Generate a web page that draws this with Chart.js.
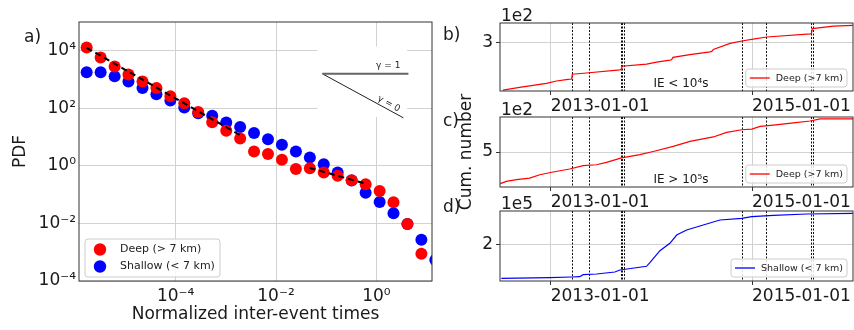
<!DOCTYPE html>
<html>
<head>
<meta charset="utf-8">
<script src="https://cdn.jsdelivr.net/npm/chart.js@4.4.1/dist/chart.umd.min.js"></script>
<style>
  body { margin: 0; background: #fff; }
  #wrap { position: relative; width: 854px; height: 330px; overflow: hidden; }
  canvas { position: absolute; top: 0; }
</style>
</head>
<body>
<div id="wrap">
  <canvas id="pdf" width="440" height="330" style="left:0"></canvas>
  <canvas id="deepShort" width="414" height="330" style="left:440px"></canvas>
  <canvas id="deepLong" width="414" height="330" style="left:440px"></canvas>
  <canvas id="shallow" width="414" height="330" style="left:440px"></canvas>
</div>
<script>
// ---- panel a: PDF of normalized inter-event times ----
const ieTimes = [1.69e-6, 3.21e-6, 6.10e-6, 1.15e-5, 2.19e-5, 4.15e-5, 7.87e-5, 1.49e-4, 2.82e-4, 5.36e-4,
  1.02e-3, 1.93e-3, 3.65e-3, 6.92e-3, 1.31e-2, 2.49e-2, 4.72e-2, 8.93e-2, 0.169, 0.321, 0.610, 1.16, 2.19, 4.15, 7.87, 14.9];
const pdfDeep = [12900, 5890, 2820, 1510, 851, 513, 263, 151, 74, 33, 16.6, 8.9, 3.16, 2.57, 1.62, 0.78,
  0.83, 0.59, 0.45, 0.32, 0.23, 0.135, 0.055, 0.0095, 0.00089, null];
const pdfShallow = [1780, 1780, 1290, 851, 513, 309, 186, 107, 68, 55, 32, 22.4, 13.8, 8.5, 5.4, 3.16,
  1.95, 1.15, 0.59, 0.31, 0.117, 0.056, 0.0224, 0.0095, 0.0027, 0.00054];
const fitShortX = [1.69e-6, 1.88e-3];
const fitShortY = [12700, 12.0];
const fitLongX = [0.0465, 0.632];
const fitLongY = [0.851, 0.237];
const gammaOneX = [0.084, 4.34];
const gammaOneY = [1585, 1585];
const gammaZeroX = [0.084, 3.44];
const gammaZeroY = [1585, 46.8];
const pdfXTicks = [1e-4, 1e-2, 1];
const pdfYTicks = [1e-4, 1e-2, 1, 1e2, 1e4];

// ---- panels b-d: cumulative numbers ----
const dateTicks = [2013, 2015];
const dateTickLabels = ['2013-01-01', '2015-01-01'];
const eventYears = [2013.212, 2013.381, 2013.701, 2013.711, 2013.728, 2014.898, 2015.139, 2015.586, 2015.606];

const deepShortYears = [2012.525, 2012.69, 2012.957, 2013.057, 2013.172, 2013.208, 2013.214, 2013.355, 2013.687,
  2013.700, 2013.706, 2013.952, 2014.052, 2014.184, 2014.200, 2014.214, 2014.383, 2014.582, 2014.600, 2014.615,
  2014.781, 2014.898, 2014.997, 2015.146, 2015.580, 2015.590, 2015.600, 2015.809, 2016.002];
const deepShortCount = [180, 187, 197, 203, 207, 208, 220, 223, 231, 232, 240, 245, 250, 255, 256, 262, 269, 276,
  277, 282, 297, 303, 307, 313, 321, 322, 334, 340, 342];

const deepLongYears = [2012.499, 2012.559, 2012.659, 2012.791, 2012.891, 2012.997, 2013.189, 2013.321, 2013.455,
  2013.554, 2013.703, 2013.886, 2014.018, 2014.217, 2014.383, 2014.615, 2014.748, 2014.898, 2014.997, 2015.080,
  2015.212, 2015.411, 2015.577, 2015.677, 2016.002];
const deepLongCount = [319, 332, 342, 351, 370, 383, 403, 422, 427, 441, 466, 485, 503, 532, 561, 586, 612, 627,
  631, 646, 654, 666, 677, 689, 689];

const shallowYears = [2012.509, 2012.99, 2013.206, 2013.289, 2013.321, 2013.455, 2013.637, 2013.687, 2013.952,
  2013.985, 2014.085, 2014.184, 2014.251, 2014.350, 2014.515, 2014.681, 2014.898, 2014.997, 2015.212, 2015.544, 2016.002];
const shallowCount = [137000, 138100, 139400, 140000, 143700, 145000, 148700, 152400, 159300, 166000, 188300,
  202000, 217400, 226700, 236000, 245300, 248400, 251400, 254000, 256400, 257700];

Chart.defaults.font.family = "'DejaVu Sans', sans-serif";
Chart.defaults.font.size = 17;
Chart.defaults.color = '#1a1a1a';

const gridColor = '#d2d2d2';
const sup = { '-': '\u207B', '0': '\u2070', '1': '\u00B9', '2': '\u00B2', '3': '\u00B3', '4': '\u2074', '5': '\u2075' };
const powLabel = v => '10' + String(Math.round(Math.log10(v))).split('').map(c => sup[c]).join('');
const pairs = (xs, ys) => xs.map((x, i) => ({ x, y: ys[i] })).filter(p => p.y !== null);

const framePlugin = {
  id: 'frame',
  afterDatasetsDraw(chart) {
    const { ctx, chartArea: a } = chart;
    ctx.save();
    ctx.strokeStyle = '#333';
    ctx.lineWidth = 1;
    ctx.strokeRect(a.left, a.top, a.right - a.left, a.bottom - a.top);
    ctx.restore();
  }
};

function roundBox(ctx, x, y, w, h, r) {
  ctx.beginPath();
  ctx.moveTo(x + r, y);
  ctx.arcTo(x + w, y, x + w, y + h, r);
  ctx.arcTo(x + w, y + h, x, y + h, r);
  ctx.arcTo(x, y + h, x, y, r);
  ctx.arcTo(x, y, x + w, y, r);
  ctx.closePath();
  ctx.fillStyle = 'rgba(255,255,255,0.85)';
  ctx.fill();
  ctx.strokeStyle = '#cccccc';
  ctx.lineWidth = 1;
  ctx.stroke();
}

// white patch behind the slope inset, and the gamma labels
const insetPlugin = {
  id: 'inset',
  beforeDatasetsDraw(chart, args, opts) {
    const { ctx, scales: { x, y } } = chart;
    const x0 = x.getPixelForValue(opts.x[0]), x1 = x.getPixelForValue(opts.x[1]);
    const y0 = y.getPixelForValue(opts.y[1]), y1 = y.getPixelForValue(opts.y[0]);
    ctx.save();
    ctx.fillStyle = '#fff';
    ctx.fillRect(x0, y0, x1 - x0, y1 - y0);
    ctx.restore();
  },
  afterDatasetsDraw(chart) {
    const { ctx, scales: { x, y } } = chart;
    ctx.save();
    ctx.fillStyle = '#222';
    ctx.font = "9px 'DejaVu Sans'";
    ctx.textAlign = 'right';
    ctx.textBaseline = 'alphabetic';
    ctx.fillText('\u03B3 = 1', x.getPixelForValue(gammaOneX[1]) - 8, y.getPixelForValue(gammaOneY[1]) - 6);
    const px0 = x.getPixelForValue(gammaZeroX[0]), py0 = y.getPixelForValue(gammaZeroY[0]);
    const px1 = x.getPixelForValue(gammaZeroX[1]), py1 = y.getPixelForValue(gammaZeroY[1]);
    const ang = Math.atan2(py1 - py0, px1 - px0);
    ctx.translate(px0 + (px1 - px0) * 0.92, py0 + (py1 - py0) * 0.92);
    ctx.rotate(ang);
    ctx.fillText('\u03B3 = 0', 0, -3);
    ctx.restore();
  }
};

const pdfLegend = {
  id: 'pdfLegend',
  afterDraw(chart) {
    const { ctx, chartArea: a } = chart;
    const items = chart.data.datasets.filter(d => d.inLegend);
    const h = 38, w = 135, x0 = a.left + 6, y0 = a.bottom - 4 - h;
    ctx.save();
    roundBox(ctx, x0, y0, w, h, 3);
    ctx.font = "11px 'DejaVu Sans'";
    ctx.textBaseline = 'middle';
    items.forEach((d, i) => {
      const cy = y0 + 10.5 + 17 * i;
      ctx.beginPath();
      ctx.arc(x0 + 15, cy, 6.2, 0, Math.PI * 2);
      ctx.fillStyle = d.backgroundColor;
      ctx.fill();
      ctx.fillStyle = '#222';
      ctx.fillText(d.label, x0 + 35, cy);
    });
    ctx.fillStyle = '#1a1a1a';
    ctx.font = "17px 'DejaVu Sans'";
    ctx.textBaseline = 'middle';
    ctx.fillText('a)', 24, 38);
    ctx.restore();
  }
};

new Chart(document.getElementById('pdf'), {
  type: 'scatter',
  data: {
    datasets: [
      { label: 'fit short', data: pairs(fitShortX, fitShortY), showLine: true, borderColor: '#000', borderWidth: 2,
        borderDash: [6, 4], pointRadius: 0, order: 0, clip: 0 },
      { label: 'fit long', data: pairs(fitLongX, fitLongY), showLine: true, borderColor: '#000', borderWidth: 2,
        borderDash: [6, 4], pointRadius: 0, order: 0, clip: 0 },
      { label: 'gamma 1', data: pairs(gammaOneX, gammaOneY), showLine: true, borderColor: '#666', borderWidth: 2,
        pointRadius: 0, order: 0, clip: 0 },
      { label: 'gamma 0', data: pairs(gammaZeroX, gammaZeroY), showLine: true, borderColor: '#222', borderWidth: 1,
        pointRadius: 0, order: 0, clip: 0 },
      { label: 'Deep (> 7 km)', data: pairs(ieTimes, pdfDeep), backgroundColor: '#ff0000', pointRadius: 6,
        pointBorderWidth: 0, order: 1, clip: 0, inLegend: true },
      { label: 'Shallow (< 7 km)', data: pairs(ieTimes, pdfShallow), backgroundColor: '#0000ff', pointRadius: 6,
        pointBorderWidth: 0, order: 2, clip: 0, inLegend: true }
    ]
  },
  options: {
    responsive: false,
    animation: false,
    events: [],
    layout: { padding: { left: 10, right: 8, top: 22, bottom: 5 } },
    plugins: {
      legend: { display: false },
      tooltip: { enabled: false },
      inset: { x: [0.067, 4.1], y: [50, 14000] }
    },
    scales: {
      x: {
        type: 'logarithmic', min: 1.19e-6, max: 12.8,
        afterBuildTicks: s => { s.ticks = pdfXTicks.map(v => ({ value: v })); },
        afterFit: s => { s.height = 44; },
        ticks: { callback: v => powLabel(v), autoSkip: false, maxRotation: 0, padding: 5 },
        grid: { color: gridColor, drawTicks: false },
        border: { display: false },
        title: { display: true, text: 'Normalized inter-event times', padding: { top: 0, bottom: 0 } }
      },
      y: {
        type: 'logarithmic', min: 1e-4, max: 1e5,
        afterBuildTicks: s => { s.ticks = pdfYTicks.map(v => ({ value: v })); },
        afterFit: s => { s.width = 69; },
        ticks: { callback: v => powLabel(v), autoSkip: false, padding: 3 },
        grid: { color: gridColor, drawTicks: false },
        border: { display: false },
        title: { display: true, text: 'PDF', padding: { top: 0, bottom: 0 } }
      }
    }
  },
  plugins: [insetPlugin, framePlugin, pdfLegend]
});

// dotted vertical lines at the marked dates
const eventLines = {
  id: 'eventLines',
  beforeDatasetsDraw(chart) {
    const { ctx, chartArea: a, scales: { x } } = chart;
    ctx.save();
    ctx.strokeStyle = '#111';
    ctx.lineWidth = 1;
    ctx.setLineDash([2, 1.5]);
    eventYears.forEach(yr => {
      const px = Math.round(x.getPixelForValue(yr)) + 0.5;
      ctx.beginPath();
      ctx.moveTo(px, a.top);
      ctx.lineTo(px, a.bottom);
      ctx.stroke();
    });
    ctx.restore();
  }
};

const panelText = {
  id: 'panelText',
  afterDraw(chart, args, o) {
    const { ctx, chartArea: a } = chart;
    const d = chart.data.datasets[0];
    ctx.save();
    // legend
    ctx.font = "9.5px 'DejaVu Sans'";
    const tw = ctx.measureText(d.label).width;
    const w = tw + 34, h = 18, x0 = a.right - 6 - w, y0 = a.bottom - 4 - h;
    roundBox(ctx, x0, y0, w, h, 3);
    ctx.strokeStyle = d.borderColor;
    ctx.lineWidth = 1.3;
    ctx.beginPath();
    ctx.moveTo(x0 + 4, y0 + h / 2);
    ctx.lineTo(x0 + 24, y0 + h / 2);
    ctx.stroke();
    ctx.fillStyle = '#222';
    ctx.textBaseline = 'middle';
    ctx.fillText(d.label, x0 + 30, y0 + h / 2 + 0.5);
    // offset text, panel tag, note
    ctx.fillStyle = '#1a1a1a';
    ctx.font = "17px 'DejaVu Sans'";
    ctx.textBaseline = 'alphabetic';
    ctx.fillText(o.offset, a.left + 1, a.top - 2);
    ctx.textBaseline = 'middle';
    ctx.fillText(o.tag, 3, o.tagY);
    if (o.note) {
      ctx.font = "12px 'DejaVu Sans'";
      ctx.textAlign = 'center';
      ctx.textBaseline = 'alphabetic';
      ctx.fillText(o.note, a.left + 181, a.bottom - 4);
    }
    ctx.restore();
  }
};

function timePanel(id, o) {
  return new Chart(document.getElementById(id), {
    type: 'line',
    data: {
      datasets: [{
        label: o.label,
        data: pairs(o.years, o.counts),
        borderColor: o.color,
        borderWidth: 1.2,
        pointRadius: 0,
        fill: false,
        clip: 0
      }]
    },
    options: {
      responsive: false,
      animation: false,
      events: [],
      layout: { padding: { left: 0, right: 1, top: o.top, bottom: 330 - o.bottom - 24 } },
      plugins: {
        legend: { display: false },
        tooltip: { enabled: false },
        panelText: o.text
      },
      scales: {
        x: {
          type: 'linear', min: 2012.496, max: 2016.003,
          afterBuildTicks: s => { s.ticks = dateTicks.map(v => ({ value: v })); },
          afterFit: s => { s.height = 24; },
          ticks: { callback: (v, i) => dateTickLabels[i], align: 'start', autoSkip: false, maxRotation: 0, padding: 1 },
          grid: { color: gridColor, tickColor: '#333', tickLength: 4 },
          border: { display: false }
        },
        y: {
          type: 'linear', min: o.min, max: o.max,
          afterBuildTicks: s => { s.ticks = [{ value: o.tick }]; },
          afterFit: s => { s.width = 60; },
          ticks: { callback: v => String(v / o.scale), padding: 3 },
          grid: { color: gridColor, tickColor: '#333', tickLength: 4 },
          border: { display: false },
          title: { display: !!o.title, text: o.title || '', padding: { top: 16, bottom: 0 } }
        }
      }
    },
    plugins: [eventLines, framePlugin, panelText]
  });
}

timePanel('deepShort', {
  label: 'Deep (>7 km)', years: deepShortYears, counts: deepShortCount, color: '#ff0000',
  top: 23, bottom: 91, min: 178, max: 348, tick: 300, scale: 100,
  text: { offset: '1e2', tag: 'b)', tagY: 36, note: 'IE < 10\u2074s' }
});
timePanel('deepLong', {
  label: 'Deep (>7 km)', years: deepLongYears, counts: deepLongCount, color: '#ff0000',
  top: 117, bottom: 187, min: 300, max: 700, tick: 500, scale: 100, title: 'Cum. number',
  text: { offset: '1e2', tag: 'c)', tagY: 122, note: 'IE > 10\u2075s' }
});
timePanel('shallow', {
  label: 'Shallow (< 7 km)', years: shallowYears, counts: shallowCount, color: '#0000ff',
  top: 211, bottom: 281, min: 132000, max: 262000, tick: 200000, scale: 100000,
  text: { offset: '1e5', tag: 'd)', tagY: 208 }
});
</script>
</body>
</html>
